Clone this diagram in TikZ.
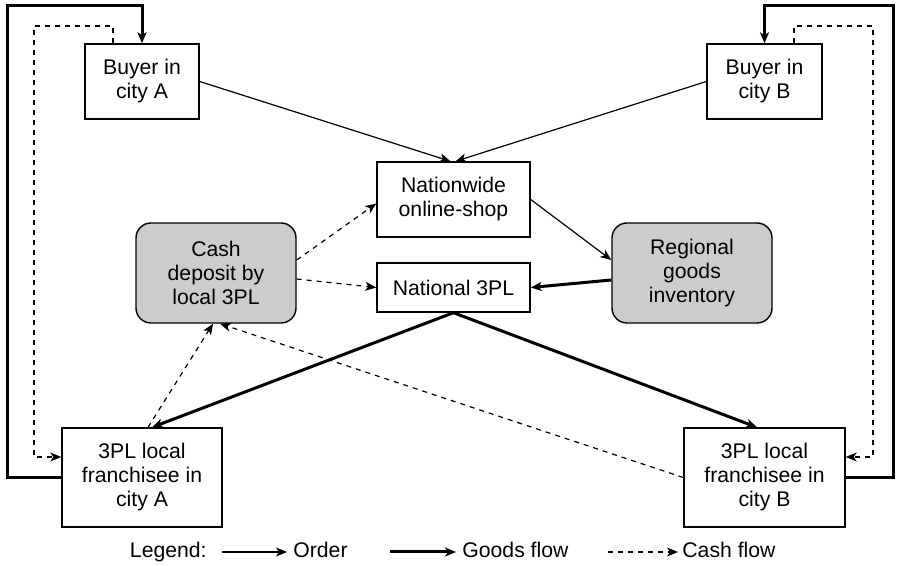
\documentclass[tikz,border=0pt]{standalone}
\usepackage{fontspec}
\setmainfont{Liberation Sans}
\usepackage{tikz}
\usetikzlibrary{arrows.meta,calc}

\begin{document}
\begin{tikzpicture}[x=0.5pt,y=-0.5pt,
    font=\fontsize{10.6pt}{12pt}\selectfont,
    box/.style={draw,line width=0.7pt,align=center,inner sep=0pt},
    shade/.style={box,fill=gray!40,rounded corners=7.5pt},
    order/.style={line width=0.6pt,-{Stealth[length=5.5pt,width=4.5pt,inset=1.5pt]}},
    goods/.style={line width=1.5pt,-{Stealth[length=5.5pt,width=4.5pt,inset=1.5pt]}},
    cash/.style={line width=0.6pt,dash pattern=on 2.5pt off 2.5pt,-{Stealth[length=5.5pt,width=4.5pt,inset=1.5pt]}}]
  \useasboundingbox (0,0) rectangle (900,566);
  \node[box,minimum width=57pt,minimum height=37.5pt] (buyA) at (142,81.5) {Buyer in\\city A};
  \node[box,minimum width=57.5pt,minimum height=37.5pt] (buyB) at (764.5,81.5) {Buyer in\\city B};
  \node[box,minimum width=76.5pt,minimum height=37.5pt] (shop) at (453.5,199.5) {Nationwide\\online-shop};
  \node[box,minimum width=76.5pt,minimum height=24.5pt] (tpl) at (453.5,287.5) {National 3PL};
  \node[shade,minimum width=80pt,minimum height=50pt] (cash) at (216,273) {Cash\\deposit by\\local 3PL};
  \node[shade,minimum width=80pt,minimum height=50pt] (inv) at (692,273) {Regional\\goods\\inventory};
  \node[box,minimum width=80pt,minimum height=49.5pt] (locA) at (142,477.5) {3PL local\\franchisee in\\city A};
  \node[box,minimum width=80.5pt,minimum height=49.5pt] (locB) at (764.5,477.5) {3PL local\\franchisee in\\city B};
  % orders
  \draw[order] (buyA.east) -- ([xshift=-1.5pt]shop.north);
  \draw[order] (buyB.west) -- ([xshift=1pt]shop.north);
  \draw[order] (shop.east) -- ([yshift=6.5pt]inv.west);
  % goods
  \draw[goods] ([yshift=-3.5pt]inv.west) -- (tpl.east);
  \draw[goods] (tpl.south) -- ([xshift=5pt]locA.north);
  \draw[goods] (tpl.south) -- ([xshift=-3.75pt]locB.north);
  \coordinate (gl) at (7,6);
  \coordinate (gr) at (893,6);
  \draw[goods] (locA.west) -| (gl) -| (buyA.north);
  \draw[goods] (locB.east) -| (gr) -| (buyB.north);
  % cash
  \coordinate (cl) at (34,26);
  \coordinate (cr) at (873,26);
  \draw[cash] ([xshift=-14.5pt]buyA.north) |- (cl) |- ([yshift=10.25pt]locA.west);
  \draw[cash] ([xshift=14.75pt]buyB.north) |- (cr) |- ([yshift=10.25pt]locB.east);
  \draw[cash] ([yshift=6.5pt]cash.east) -- ([yshift=-2pt]shop.west);
  \draw[cash] ([yshift=-3pt]cash.east) -- (tpl.west);
  \draw[cash] ([xshift=3pt]locA.north) -- ([xshift=-1.5pt]cash.south);
  \draw[cash] (locB.west) -- ([xshift=2pt]cash.south);
  % legend
  \node[anchor=base east,inner sep=0pt] (lg) at (207,558) {Legend:};
  \coordinate (o1) at (222,552); \coordinate (o2) at (287,552);
  \coordinate (g1) at (390,552); \coordinate (g2) at (456,552);
  \coordinate (c1) at (608,552); \coordinate (c2) at (678,552);
  \draw[order] (o1) -- (o2);
  \draw[goods] (g1) -- (g2);
  \draw[cash] (c1) -- (c2);
  \node[anchor=base west,inner sep=0pt] (lo) at (293,558) {Order};
  \node[anchor=base west,inner sep=0pt] (lgf) at (462,558) {Goods flow};
  \node[anchor=base west,inner sep=0pt] (lc) at (682,558) {Cash flow};
\end{tikzpicture}
\end{document}
